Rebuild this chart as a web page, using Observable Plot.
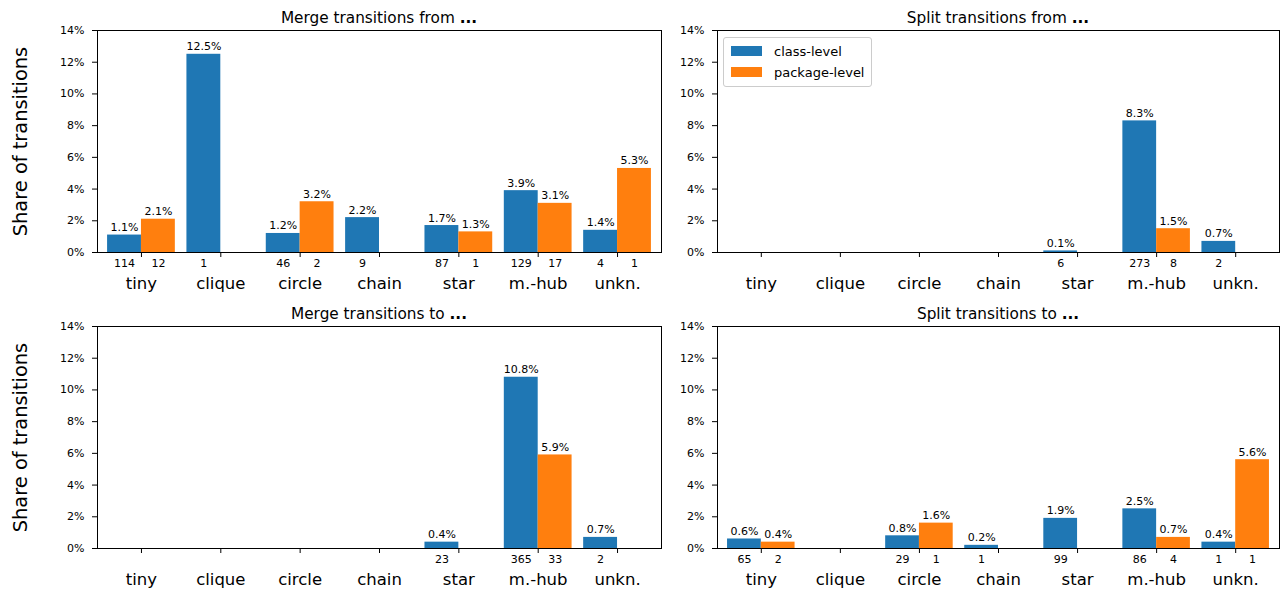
<!DOCTYPE html>
<html>
<head>
<meta charset="utf-8">
<script src="https://cdn.jsdelivr.net/npm/d3@7"></script>
<script src="https://cdn.jsdelivr.net/npm/@observablehq/plot@0.6"></script>
<style>
  body { margin: 0; background: #fff; }
  #chart { position: relative; width: 1280px; height: 591px; overflow: hidden; font-family: "DejaVu Sans", sans-serif; color: #000; background: #fff; }
  .panel { position: absolute; }
  .panel svg { overflow: visible; }
  .title { position: absolute; text-align: center; font-size: 15.3px; line-height: 15px; white-space: nowrap; }
  .ylab { position: absolute; width: 300px; text-align: center; font-size: 19.4px; line-height: 19px; transform: rotate(-90deg); white-space: nowrap; }
  .legend { position: absolute; box-sizing: border-box; border: 1px solid #cccccc; border-radius: 3px; background: rgba(255,255,255,0.8); }
  .legend .sw { position: absolute; width: 31px; height: 10px; }
  .legend .lt { position: absolute; font-size: 13px; line-height: 13px; white-space: nowrap; }
</style>
</head>
<body>
<div id="chart"></div>
<script>
// ---------- data ----------
const categories = ["tiny", "clique", "circle", "chain", "star", "m.-hub", "unkn."];
const seriesNames = ["class-level", "package-level"];
const seriesColors = ["#1f77b4", "#ff7f0e"];
const panelTitles = ["Merge transitions from", "Split transitions from", "Merge transitions to", "Split transitions to"];
const yTicks = [0, 2, 4, 6, 8, 10, 12, 14];
const yLabel = "Share of transitions";

// share of transitions (%) and counts
const mergeFromClass    = [1.1, 12.5, 1.2, 2.2, 1.7, 3.9, 1.4];
const mergeFromPackage  = [2.1, 0, 3.2, 0, 1.3, 3.1, 5.3];
const mergeFromClassN   = [114, 1, 46, 9, 87, 129, 4];
const mergeFromPackageN = [12, 0, 2, 0, 1, 17, 1];

const splitFromClass    = [0, 0, 0, 0, 0.1, 8.3, 0.7];
const splitFromPackage  = [0, 0, 0, 0, 0, 1.5, 0];
const splitFromClassN   = [0, 0, 0, 0, 6, 273, 2];
const splitFromPackageN = [0, 0, 0, 0, 0, 8, 0];

const mergeToClass    = [0, 0, 0, 0, 0.4, 10.8, 0.7];
const mergeToPackage  = [0, 0, 0, 0, 0, 5.9, 0];
const mergeToClassN   = [0, 0, 0, 0, 23, 365, 2];
const mergeToPackageN = [0, 0, 0, 0, 0, 33, 0];

const splitToClass    = [0.6, 0, 0.8, 0.2, 1.9, 2.5, 0.4];
const splitToPackage  = [0.4, 0, 1.6, 0, 0, 0.7, 5.6];
const splitToClassN   = [65, 0, 29, 1, 99, 86, 1];
const splitToPackageN = [2, 0, 1, 0, 0, 4, 1];

// ---------- layout ----------
const BAR_W = 0.427;
const X_PAD = 0.554;
const SVG_H = 295;

const chart = document.getElementById("chart");

function makePanel(cls, pkg, clsN, pkgN, box) {
  const rows = [];
  categories.forEach((c, i) => {
    rows.push({i, s: seriesNames[0], v: cls[i], n: clsN[i], x1: i - BAR_W, x2: i});
    rows.push({i, s: seriesNames[1], v: pkg[i], n: pkgN[i], x1: i, x2: i + BAR_W});
  });
  const bars = rows.filter(d => d.v > 0);
  const mid = d => (d.x1 + d.x2) / 2;
  const idx = d3.range(categories.length);

  const svg = Plot.plot({
    width: box.width,
    height: SVG_H,
    marginLeft: box.ml,
    marginRight: box.mr,
    marginTop: 30,
    marginBottom: 43,
    style: {fontFamily: "DejaVu Sans, sans-serif", fontSize: "11px", color: "#000", background: "transparent", overflow: "visible"},
    x: {domain: [-X_PAD, categories.length - 1 + X_PAD], axis: null, label: null},
    y: {domain: [0, 14], axis: null, label: null},
    color: {domain: seriesNames, range: seriesColors},
    marks: [
      Plot.rectY(bars, {x1: "x1", x2: "x2", y1: () => 0, y2: "v", fill: "s"}),
      Plot.text(bars, {x: mid, y: "v", text: d => d.v.toFixed(1) + "%", lineAnchor: "bottom", dy: -4, fontSize: 11, fill: "#000"}),
      Plot.text(bars, {x: mid, frameAnchor: "bottom", text: d => String(d.n), lineAnchor: "top", dy: 7, fontSize: 11, fill: "#000"}),
      Plot.axisX(idx, {tickSize: 5, tickFormat: () => "", label: null, stroke: "#000"}),
      Plot.axisX(idx, {tickSize: 0, tickPadding: 25, tickFormat: i => categories[i], label: null, fontSize: 16.5, fill: "#000"}),
      Plot.axisY(yTicks, {tickSize: 5, tickPadding: 8, tickFormat: d => d + "%", label: null, fontSize: 11, stroke: "#000", fill: "#000"}),
      Plot.frame({stroke: "#000", strokeWidth: 1})
    ]
  });
  const div = document.createElement("div");
  div.className = "panel";
  div.style.left = box.left + "px";
  div.style.top = box.top + "px";
  div.appendChild(svg);
  chart.appendChild(div);

  const t = document.createElement("div");
  t.className = "title";
  t.style.left = (box.left + box.ml) + "px";
  t.style.width = (box.width - box.ml - box.mr) + "px";
  t.style.top = (box.top + 10.5) + "px";
  t.innerHTML = box.title + " <b>...</b>";
  chart.appendChild(t);
}

const boxes = [
  {left: 0,   top: 0,   width: 665, ml: 97, mr: 4},
  {left: 665, top: 0,   width: 615, ml: 52, mr: 1},
  {left: 0,   top: 296, width: 665, ml: 97, mr: 4},
  {left: 665, top: 296, width: 615, ml: 52, mr: 1}
];
boxes.forEach((b, k) => b.title = panelTitles[k]);

makePanel(mergeFromClass, mergeFromPackage, mergeFromClassN, mergeFromPackageN, boxes[0]);
makePanel(splitFromClass, splitFromPackage, splitFromClassN, splitFromPackageN, boxes[1]);
makePanel(mergeToClass, mergeToPackage, mergeToClassN, mergeToPackageN, boxes[2]);
makePanel(splitToClass, splitToPackage, splitToClassN, splitToPackageN, boxes[3]);

// y axis labels (left column)
[141, 437].forEach(cy => {
  const l = document.createElement("div");
  l.className = "ylab";
  l.style.left = (20 - 150) + "px";
  l.style.top = (cy - 9.5) + "px";
  l.textContent = yLabel;
  chart.appendChild(l);
});

// legend inside the top-right panel
const lg = document.createElement("div");
lg.className = "legend";
lg.style.left = "723px";
lg.style.top = "37px";
lg.style.width = "149px";
lg.style.height = "50px";
seriesNames.forEach((name, k) => {
  const sw = document.createElement("div");
  sw.className = "sw";
  sw.style.left = "7px";
  sw.style.top = (8 + k * 21) + "px";
  sw.style.background = seriesColors[k];
  lg.appendChild(sw);
  const lt = document.createElement("div");
  lt.className = "lt";
  lt.style.left = "50px";
  lt.style.top = (6.5 + k * 21) + "px";
  lt.textContent = name;
  lg.appendChild(lt);
});
chart.appendChild(lg);
</script>
</body>
</html>
